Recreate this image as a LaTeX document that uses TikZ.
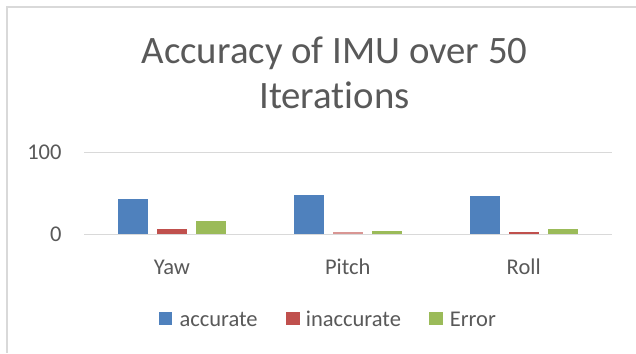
\documentclass[tikz,border=0pt]{standalone}
\usepackage{fontspec}
\setmainfont{Carlito}[Ligatures=NoCommon]
\definecolor{txtgray}{HTML}{595959}
\definecolor{gridgray}{HTML}{D9D9D9}
\definecolor{barblue}{HTML}{4F81BD}
\definecolor{barred}{HTML}{C0504D}
\definecolor{bargreen}{HTML}{9BBB59}
\begin{document}
\begin{tikzpicture}[x=1pt,y=-1pt,
  lbl/.style={text=txtgray,font=\fontsize{22.5}{27}\selectfont,inner sep=0pt},
  ttl/.style={text=txtgray,font=\fontsize{38.8}{45}\selectfont,inner sep=0pt,anchor=base},
  grid/.style={draw=gridgray,line width=1.3pt},
  bar/.style={draw=none},
  key/.style={minimum width=13.5pt,minimum height=13.5pt,inner sep=0pt,draw=none}]
\useasboundingbox (0,0) rectangle (636,353);
\fill[white] (0,0) rectangle (636,353);
% chart border
\draw[draw=gridgray,line width=1.5pt] (636,7.2) -- (7.2,7.2) -- (7.2,353);
% title
\node[ttl] (t1) at (334.5,63.5) {Accuracy of IMU over 50};
\node[ttl] (t2) at (334.5,108) {Iterations};
% gridlines
\draw[grid] (84,152.3) -- (611.7,152.3);
\draw[grid] (84,234.3) -- (611.7,234.3);
% axis labels
\node[lbl,anchor=east] (y100) at (61.7,152.3) {100};
\node[lbl,anchor=east] (y0) at (61.7,234.5) {0};
% bars Yaw
\fill[bar,fill=barblue] (117.7,233.6) rectangle (148.1,199.3);
\fill[bar,fill=barred] (156.7,233.6) rectangle (187.1,229);
\fill[bar,fill=bargreen] (195.7,233.6) rectangle (226.1,221.3);
% bars Pitch
\fill[bar,fill=barred!60] (332.6,233.6) rectangle (363,232.2);
\fill[bar,fill=barblue] (293.6,233.6) rectangle (324,195.3);
\fill[bar,fill=bargreen] (371.6,233.6) rectangle (402,231.3);
% bars Roll
\fill[bar,fill=barblue] (469.5,233.6) rectangle (499.9,196.3);
\fill[bar,fill=barred] (508.5,233.6) rectangle (538.9,231.6);
\fill[bar,fill=bargreen] (547.5,233.6) rectangle (577.9,229.3);
% category labels
\node[lbl,anchor=base] (cyaw) at (171.9,274) {Yaw};
\node[lbl,anchor=base] (cpitch) at (347.8,274) {Pitch};
\node[lbl,anchor=base] (croll) at (523.7,274) {Roll};
% legend
\node[key,fill=barblue] (k1) at (165.7,318.3) {};
\node[lbl,anchor=base west] (l1) at (179.3,326.7) {accurate};
\node[key,fill=barred] (k2) at (293,318.3) {};
\node[lbl,anchor=base west] (l2) at (305.7,326.7) {inaccurate};
\node[key,fill=bargreen] (k3) at (436.2,318.3) {};
\node[lbl,anchor=base west] (l3) at (449.7,326.7) {Error};
\end{tikzpicture}
\end{document}
